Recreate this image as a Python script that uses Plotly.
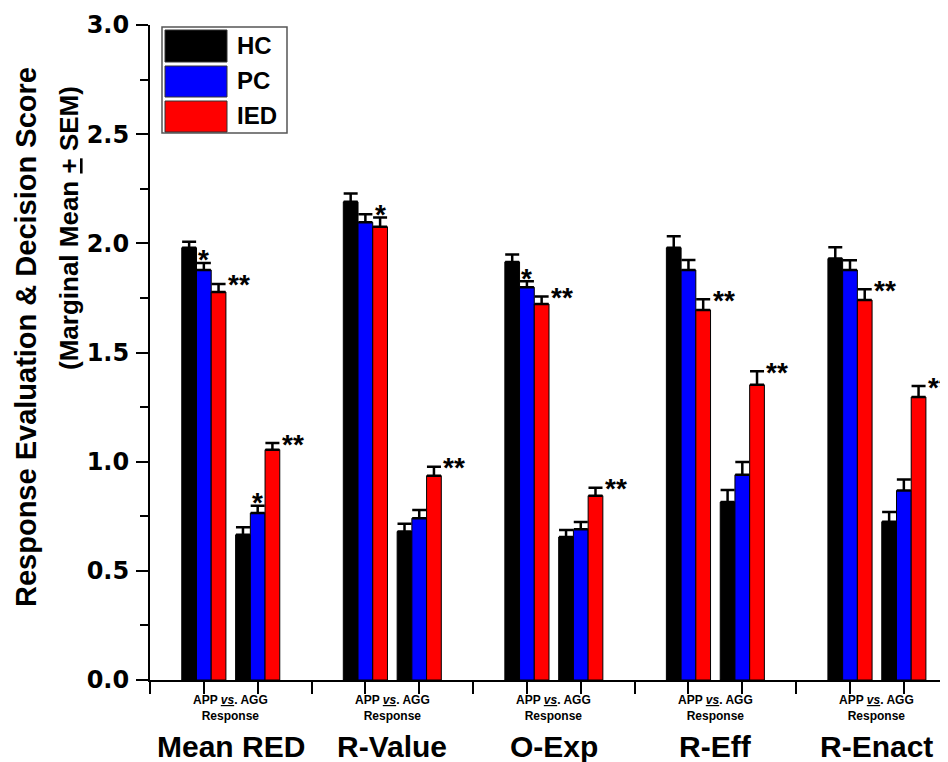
import plotly.graph_objects as go

# ---------------- data ----------------
categories = ["Mean RED", "R-Value", "O-Exp", "R-Eff", "R-Enact"]
responses = ["APP", "AGG"]
groups = ["HC", "PC", "IED"]

# values per cluster, ordered: cat0-APP, cat0-AGG, cat1-APP, cat1-AGG, ...
hc_mean = [1.980, 0.665, 2.190, 0.680, 1.915, 0.655, 1.980, 0.815, 1.930, 0.725]
hc_sem = [0.027, 0.035, 0.038, 0.036, 0.034, 0.032, 0.053, 0.055, 0.052, 0.045]
pc_mean = [1.878, 0.765, 2.096, 0.741, 1.799, 0.690, 1.878, 0.940, 1.878, 0.868]
pc_sem = [0.032, 0.033, 0.037, 0.038, 0.027, 0.034, 0.046, 0.058, 0.044, 0.050]
ied_mean = [1.777, 1.055, 2.076, 0.936, 1.722, 0.844, 1.695, 1.352, 1.740, 1.296]
ied_sem = [0.037, 0.030, 0.042, 0.041, 0.034, 0.037, 0.049, 0.062, 0.050, 0.050]

# significance marks (vs HC)
pc_sig = ["*", "*", "", "", "*", "", "", "", "", ""]
ied_sig = ["**", "**", "*", "**", "**", "**", "**", "**", "**", "**"]

colors = {"HC": "#000000", "PC": "#0000FF", "IED": "#FF0000"}

# ---------------- positions ----------------
x_pos = []
for i in range(len(categories)):
    for j in range(len(responses)):
        x_pos.append(3 * i + 1 + j)

BARGAP = 0.18
bar_w = (1 - BARGAP) / 3

FONT = "Liberation Sans, Arial, sans-serif"
TICKFONT = "DejaVu Sans, Arial Black, sans-serif"

fig = go.Figure()
for name, means, sems in [("HC", hc_mean, hc_sem), ("PC", pc_mean, pc_sem), ("IED", ied_mean, ied_sem)]:
    fig.add_trace(go.Bar(
        x=x_pos, y=means, name=name,
        marker=dict(color=colors[name], line=dict(color="#000000", width=1)),
        error_y=dict(type="data", array=sems, arrayminus=[0] * len(sems), symmetric=False,
                     color="#000000", thickness=2.5, width=7),
        showlegend=False,
    ))

annotations = []
# significance stars
for k, x in enumerate(x_pos):
    for sig, means, sems, off in [(pc_sig[k], pc_mean, pc_sem, 0.0), (ied_sig[k], ied_mean, ied_sem, bar_w)]:
        if not sig:
            continue
        top = means[k] + sems[k]
        if sig == "*":
            annotations.append(dict(x=x + off, y=top, xref="x", yref="y", text=sig, showarrow=False,
                                    xanchor="center", yanchor="middle", yshift=3,
                                    font=dict(family=FONT, size=28, color="#000000", weight="bold")))
        else:
            annotations.append(dict(x=x + off + bar_w / 2, y=top, xref="x", yref="y", text=sig, showarrow=False,
                                    xanchor="left", yanchor="middle", xshift=0, yshift=-1,
                                    font=dict(family=FONT, size=28, color="#000000", weight="bold")))

# x labels
for i, cat in enumerate(categories):
    cx = 3 * i + 1.5
    annotations.append(dict(x=cx, y=0, xref="x", yref="paper", yanchor="top", yshift=-11,
                            text="APP <u><i>vs</i></u>. AGG<br>Response", showarrow=False,
                            font=dict(family=FONT, size=12, color="#000000", weight="bold")))
    annotations.append(dict(x=cx, y=0, xref="x", yref="paper", yanchor="middle", yshift=-66,
                            text=cat, showarrow=False,
                            font=dict(family=FONT, size=30, color="#000000", weight="bold")))

# page offset (browser body margin) and plot-area corners in window pixels
OFF = 8
PL, PR, PT, PB = 150, 948, 25, 680
W, H = 948 - OFF, 762 - OFF

def px(v):
    return (v - PL) / (PR - PL)

def py(v):
    return (PB - v) / (PB - PT)

# y-axis title (two lines)
annotations.append(dict(x=px(26), y=py(337), xref="paper", yref="paper", textangle=-90,
                        text="Response Evaluation & Decision Score", showarrow=False,
                        xanchor="center", yanchor="middle",
                        font=dict(family=FONT, size=29, color="#000000", weight="bold")))
annotations.append(dict(x=px(69), y=py(228), xref="paper", yref="paper", textangle=-90,
                        text="(Marginal Mean <u>+</u> SEM)", showarrow=False,
                        xanchor="center", yanchor="middle",
                        font=dict(family=FONT, size=26, color="#000000", weight="bold")))

# custom legend
shapes = [dict(type="rect", xref="paper", yref="paper", x0=px(162), x1=px(287), y0=py(133), y1=py(27),
               line=dict(color="#555555", width=1.5), fillcolor="white", layer="above")]
legend_rows = [("HC", 30, 62), ("PC", 66, 97), ("IED", 101, 132)]
for name, y0, y1 in legend_rows:
    shapes.append(dict(type="rect", xref="paper", yref="paper", x0=px(165), x1=px(227), y0=py(y1), y1=py(y0),
                       line=dict(color="#333333", width=1), fillcolor=colors[name], layer="above"))
    annotations.append(dict(x=px(235), y=py((y0 + y1) / 2 - 1), xref="paper", yref="paper",
                            text=name, showarrow=False, xanchor="left", yanchor="middle",
                            font=dict(family=FONT, size=24, color="#000000", weight="bold")))

fig.update_layout(
    width=W, height=H,
    margin=dict(l=PL - OFF, r=W - (PR - OFF), t=PT - OFF, b=H - (PB - OFF), pad=0),
    paper_bgcolor="white", plot_bgcolor="white",
    barmode="group", bargap=BARGAP, bargroupgap=0,
    annotations=annotations, shapes=shapes,
    xaxis=dict(range=[0, 14.82], tickvals=list(range(0, 16)), ticktext=[""] * 16,
               ticks="outside", ticklen=12, tickwidth=2, tickcolor="#000000",
               showline=True, linewidth=2, linecolor="#000000", showgrid=False, zeroline=False),
    yaxis=dict(range=[0, 3.0], dtick=0.5, tickformat=".1f",
               ticks="outside", ticklen=12, tickwidth=2, tickcolor="#000000",
               minor=dict(ticks="outside", dtick=0.25, ticklen=8, tickwidth=2, tickcolor="#000000"),
               showline=True, linewidth=2, linecolor="#000000", showgrid=False, zeroline=False,
               ticklabelstandoff=2,
               tickfont=dict(family=TICKFONT, size=24, color="#000000", weight="bold")),
)

fig.write_html("out.html")
